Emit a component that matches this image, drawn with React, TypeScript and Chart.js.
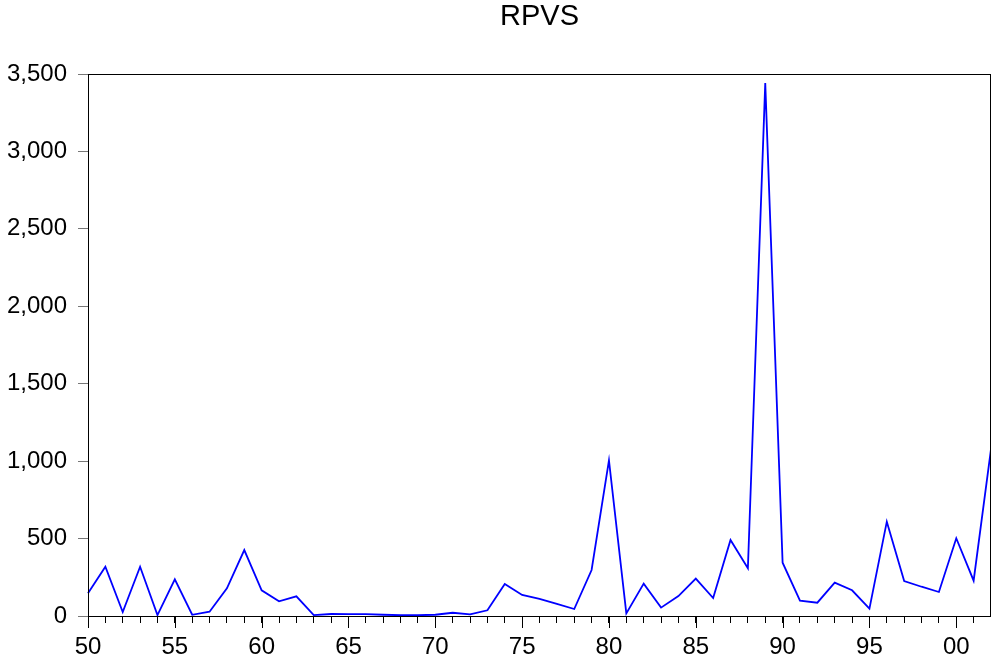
import React, { useEffect, useRef } from "react";
import { Chart, registerables } from "chart.js";

Chart.register(...registerables);

const years: number[] = [];
for (let y = 1950; y <= 2002; y++) years.push(y);

const rpvs: number[] = [
  147, 318, 26, 318, 6, 237, 8, 28, 179, 426,
  166, 95, 127, 6, 13, 12, 12, 8, 5, 5,
  8, 21, 11, 37, 207, 136, 110, 78, 45, 297,
  1005, 17, 209, 54, 129, 241, 116, 491, 308, 3441,
  344, 99, 86, 215, 166, 47, 609, 226, 189, 155,
  502, 228, 1077,
];

const yTicks: number[] = [0, 500, 1000, 1500, 2000, 2500, 3000, 3500];
const titleText = "RPVS";

const FONT = "'Liberation Sans', Arial, Helvetica, sans-serif";

export default function App() {
  const ref = useRef<HTMLCanvasElement | null>(null);

  useEffect(() => {
    if (!ref.current) return;
    const framePlugin = {
      id: "frame",
      afterDraw(chart: any) {
        const { ctx, chartArea } = chart;
        const xs = chart.scales.x;
        ctx.save();
        ctx.strokeStyle = "#000";
        ctx.lineWidth = 1;
        ctx.strokeRect(
          Math.round(chartArea.left) + 0.5,
          Math.round(chartArea.top) + 0.5,
          Math.round(chartArea.right - chartArea.left) - 1,
          Math.round(chartArea.bottom - chartArea.top)
        );
        ctx.beginPath();
        years.forEach((yr, i) => {
          if (yr % 5 === 0) {
            const px = Math.round(xs.getPixelForValue(i)) + 0.5;
            ctx.moveTo(px, chartArea.bottom);
            ctx.lineTo(px, chartArea.bottom + 12);
          }
        });
        ctx.stroke();
        ctx.restore();
      },
    };

    const chart = new Chart(ref.current, {
      type: "line",
      data: {
        labels: years.map(String),
        datasets: [
          {
            label: titleText,
            data: rpvs,
            borderColor: "#0000FF",
            borderWidth: 1.8,
            pointRadius: 0,
            tension: 0,
            fill: false,
          },
        ],
      },
      options: {
        animation: false,
        responsive: false,
        maintainAspectRatio: false,
        layout: { padding: { left: 0, right: 0, top: 0, bottom: 0 } },
        plugins: {
          legend: { display: false },
          tooltip: { enabled: false },
          title: {
            display: true,
            fullSize: false,
            text: titleText,
            color: "#000",
            font: { family: FONT, size: 29, weight: "normal" as any, lineHeight: 1.2 },
            padding: { top: 0, bottom: 39.2 },
          },
        },
        scales: {
          x: {
            type: "category",
            offset: false,
            grid: {
              display: true,
              drawOnChartArea: false,
              tickLength: 7,
              color: "#000",
            },
            border: { display: true, color: "#000" },
            ticks: {
              autoSkip: false,
              maxRotation: 0,
              minRotation: 0,
              padding: 10,
              color: "#000",
              font: { family: FONT, size: 24 },
              callback: (_v: any, i: number) => {
                const yr = years[i];
                return yr % 5 === 0 ? String(yr % 100).padStart(2, "0") : "";
              },
            },
            afterFit: (s: any) => {
              s.height = 41;
              s.paddingRight = 0;
              s.paddingLeft = 0;
            },
          },
          y: {
            min: 0,
            max: 3500,
            afterBuildTicks: (s: any) => {
              s.ticks = yTicks.map((v) => ({ value: v }));
            },
            grid: {
              display: true,
              drawOnChartArea: false,
              tickLength: 10,
              color: "#777",
            },
            border: { display: true, color: "#000" },
            ticks: {
              padding: 11,
              color: "#000",
              font: { family: FONT, size: 24 },
              callback: (v: any) => Number(v).toLocaleString("en-US"),
            },
            afterFit: (s: any) => {
              s.width = 88;
              s.paddingTop = 0;
              s.paddingBottom = 0;
            },
          },
        },
      },
      plugins: [framePlugin],
    });
    return () => chart.destroy();
  }, []);

  return (
    <div style={{ position: "fixed", left: 0, top: 0, width: 991, height: 657, background: "#fff" }}>
      <canvas ref={ref} width={991} height={657} style={{ width: 991, height: 657, display: "block" }} />
    </div>
  );
}
